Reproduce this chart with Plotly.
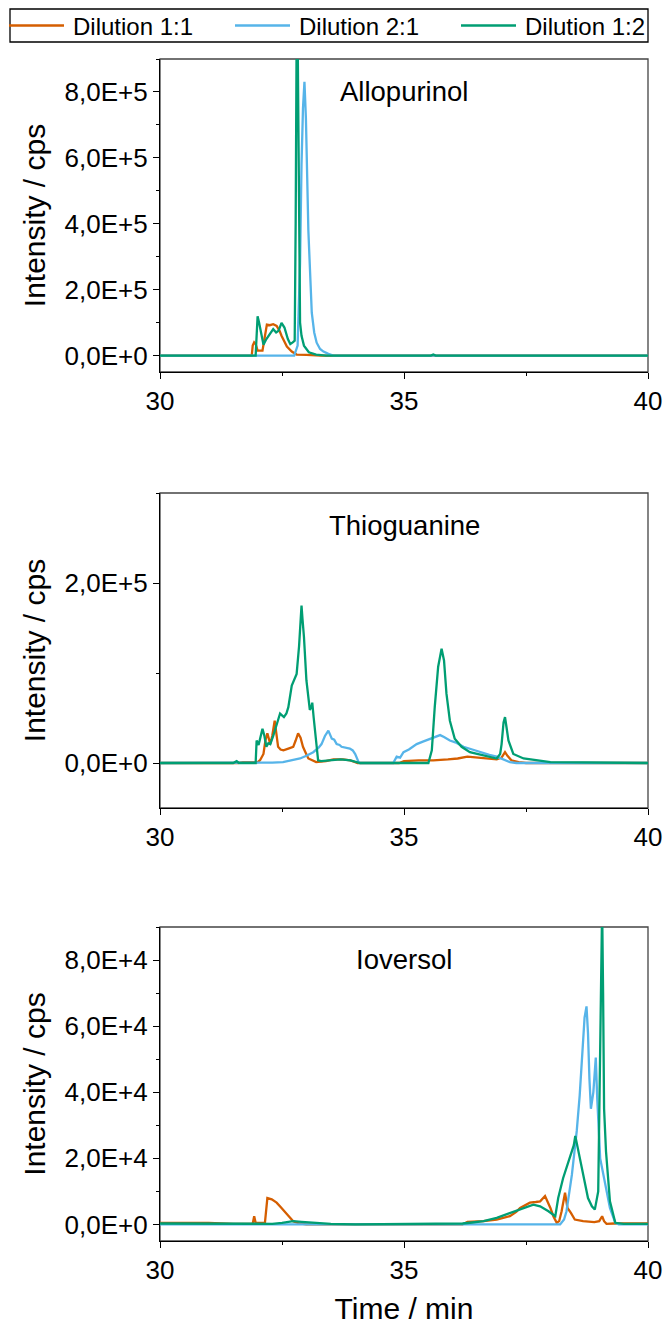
import plotly.graph_objects as go

# ---------------- data ----------------
series_names = ["Dilution 1:1", "Dilution 2:1", "Dilution 1:2"]
series_colors = ["#D55E00", "#56B4E9", "#009E73"]
panel_labels = ["Allopurinol", "Thioguanine", "Ioversol"]

# Allopurinol (time / min, intensity / cps)
allo_11 = [(30, 0), (31.88, 0), (31.9, 3.0e4), (31.93, 4.0e4), (31.96, 3.5e4), (32.0, 1.5e4),
           (32.1, 1.5e4), (32.15, 6.0e4), (32.19, 9.4e4), (32.25, 9.2e4), (32.32, 9.5e4),
           (32.39, 9.0e4), (32.45, 7.5e4), (32.49, 6.0e4), (32.55, 4.0e4), (32.6, 2.7e4),
           (32.7, 1.2e4), (32.8, 3.0e3), (33.0, 2.0e3), (33.3, 0), (40, 0)]
allo_21 = [(30, 0), (32.75, 0), (32.82, 3.0e4), (32.87, 2.8e5), (32.9, 5.8e5), (32.93, 7.5e5),
           (32.96, 8.31e5), (32.99, 7.2e5), (33.04, 3.8e5), (33.08, 2.2e5), (33.11, 1.3e5),
           (33.16, 7.0e4), (33.21, 3.9e4), (33.28, 2.0e4), (33.35, 1.2e4), (33.45, 5.0e3),
           (33.55, 0), (40, 0)]
allo_12 = [(30, 0), (31.96, 0), (31.98, 6.0e4), (32.0, 1.19e5), (32.03, 1.0e5), (32.06, 7.9e4),
           (32.12, 3.3e4), (32.18, 5.0e4), (32.25, 6.5e4), (32.32, 8.0e4), (32.38, 7.0e4),
           (32.43, 7.5e4), (32.49, 9.9e4), (32.55, 8.5e4), (32.62, 5.0e4), (32.67, 3.5e4),
           (32.72, 4.0e4), (32.76, 4.5e4), (32.78, 4.0e5), (32.8, 9.8e5), (32.82, 9.8e5),
           (32.85, 3.0e5), (32.87, 1.0e5), (32.9, 6.0e4), (32.95, 3.0e4), (33.05, 1.0e4),
           (33.2, 3.0e3), (33.4, 0), (35.55, 0), (35.6, 3.0e3), (35.65, 0), (40, 0)]

# Thioguanine
thio_11 = [(30, 0), (31.6, 0), (31.7, 1.0e3), (32.0, 1.0e3), (32.05, 3.0e3), (32.12, 1.0e4),
           (32.16, 2.5e4), (32.2, 3.3e4), (32.26, 2.1e4), (32.3, 3.0e4), (32.35, 4.7e4),
           (32.38, 3.5e4), (32.42, 1.8e4), (32.47, 1.5e4), (32.53, 1.4e4), (32.63, 1.6e4),
           (32.73, 1.8e4), (32.78, 2.5e4), (32.83, 3.3e4), (32.88, 2.8e4), (32.93, 1.8e4),
           (32.98, 1.2e4), (33.04, 5.0e3), (33.2, 1.0e3), (33.4, 2.0e3), (33.55, 4.0e3),
           (33.75, 4.0e3), (33.9, 3.0e3), (34.05, 0), (34.9, 0), (35.0, 2.0e3), (35.3, 3.0e3),
           (35.6, 3.0e3), (35.9, 4.0e3), (36.1, 5.0e3), (36.3, 7.0e3), (36.5, 6.0e3),
           (36.7, 5.0e3), (36.9, 4.0e3), (37.0, 6.0e3), (37.07, 1.2e4), (37.12, 8.0e3),
           (37.2, 3.0e3), (37.35, 1.0e3), (37.5, 0), (40, 0)]
thio_21 = [(30, 0), (32.0, 0), (32.3, 500), (32.52, 1.0e3), (32.7, 3.0e3), (32.87, 5.0e3),
           (33.0, 8.0e3), (33.14, 1.2e4), (33.25, 1.7e4), (33.31, 2.1e4), (33.38, 3.0e4),
           (33.45, 3.6e4), (33.52, 2.7e4), (33.57, 2.6e4), (33.62, 2.1e4), (33.68, 2.0e4),
           (33.72, 1.8e4), (33.8, 1.7e4), (33.89, 1.6e4), (33.95, 1.4e4), (34.0, 1.0e4),
           (34.07, 1.0e3), (34.1, 0), (34.78, 0), (34.85, 7.0e3), (34.92, 6.0e3), (34.99, 1.2e4),
           (35.1, 1.5e4), (35.26, 2.1e4), (35.4, 2.4e4), (35.53, 2.7e4), (35.65, 2.9e4),
           (35.74, 3.1e4), (35.82, 2.9e4), (35.94, 2.5e4), (36.05, 2.3e4), (36.22, 1.8e4),
           (36.4, 1.5e4), (36.56, 1.2e4), (36.75, 9.0e3), (36.9, 7.0e3), (37.05, 4.0e3),
           (37.17, 1.0e3), (37.3, 0), (40, 0)]
thio_12 = [(30, 0), (31.5, 0), (31.57, 2.0e3), (31.62, 0), (31.96, 0), (31.98, 2.5e4),
           (32.02, 2.0e4), (32.07, 3.0e4), (32.1, 3.8e4), (32.14, 3.0e4), (32.18, 1.8e4),
           (32.22, 2.2e4), (32.26, 2.1e4), (32.32, 3.0e4), (32.37, 4.0e4), (32.42, 5.0e4),
           (32.46, 5.5e4), (32.5, 5.3e4), (32.54, 5.1e4), (32.59, 5.5e4), (32.63, 6.2e4),
           (32.7, 8.6e4), (32.76, 9.5e4), (32.8, 9.9e4), (32.85, 1.3e5), (32.88, 1.55e5),
           (32.9, 1.75e5), (32.92, 1.6e5), (32.95, 1.4e5), (33.0, 9.2e4), (33.04, 7.0e4),
           (33.07, 5.9e4), (33.1, 6.2e4), (33.12, 6.7e4), (33.15, 5.0e4), (33.18, 3.3e4),
           (33.24, 3.0e3), (33.3, 2.0e3), (33.5, 3.0e3), (33.7, 4.0e3), (33.9, 3.0e3),
           (34.1, 0), (35.5, 0), (35.57, 1.4e4), (35.63, 6.2e4), (35.7, 1.07e5), (35.77, 1.27e5),
           (35.82, 1.14e5), (35.87, 7.7e4), (35.94, 4.7e4), (36.04, 2.7e4), (36.18, 1.8e4),
           (36.35, 1.2e4), (36.63, 8.5e3), (36.9, 5.0e3), (36.97, 1.0e4), (37.0, 2.1e4),
           (37.04, 4.5e4), (37.07, 5.1e4), (37.1, 4.0e4), (37.14, 2.5e4), (37.24, 1.0e4),
           (37.45, 5.0e3), (38.0, 1.0e3), (40, 0)]

# Ioversol
iover_11 = [(30, 500), (31.0, 500), (31.5, 200), (31.9, 200), (31.93, 2.5e3), (31.96, 500),
            (32.15, 500), (32.18, 6.0e3), (32.2, 8.0e3), (32.29, 7.6e3), (32.39, 6.6e3),
            (32.49, 5.0e3), (32.56, 3.8e3), (32.63, 2.5e3), (32.73, 1.0e3), (32.85, 300),
            (33.0, 0), (36.2, 0), (36.3, 800), (36.63, 1.0e3), (36.9, 1.5e3), (37.17, 2.5e3),
            (37.3, 3.8e3), (37.38, 5.0e3), (37.58, 6.6e3), (37.7, 6.8e3), (37.79, 7.0e3),
            (37.89, 8.6e3), (37.96, 6.6e3), (38.0, 5.0e3), (38.06, 2.5e3), (38.13, 500),
            (38.18, 1.0e3), (38.23, 4.0e3), (38.3, 9.6e3), (38.35, 5.0e3), (38.42, 3.5e3),
            (38.5, 1.5e3), (38.67, 1.0e3), (38.9, 700), (39.0, 1.0e3), (39.06, 2.5e3),
            (39.1, 1.0e3), (39.15, 200), (39.3, 300), (40, 300)]
iover_21 = [(30, 0), (38.2, 0), (38.28, 1.5e3), (38.33, 4.0e3), (38.44, 1.5e4), (38.54, 2.83e4),
            (38.6, 3.9e4), (38.64, 4.85e4), (38.7, 6.26e4), (38.74, 6.6e4), (38.77, 5.8e4),
            (38.8, 4.4e4), (38.83, 3.5e4), (38.86, 3.8e4), (38.88, 4.0e4), (38.93, 5.05e4),
            (38.96, 3.8e4), (39.02, 2.0e4), (39.12, 1.2e4), (39.22, 5.0e3), (39.33, 500),
            (39.4, 0), (40, 0)]
iover_12 = [(30, 300), (32.0, 300), (32.3, 200), (32.5, 500), (32.73, 1.0e3), (32.9, 800),
            (33.2, 500), (33.5, 200), (34.0, 0), (36.2, 300), (36.4, 600), (36.63, 1.0e3),
            (36.9, 2.0e3), (37.17, 3.5e3), (37.45, 5.0e3), (37.65, 6.0e3), (37.79, 5.5e3),
            (37.96, 4.0e3), (38.1, 2.5e3), (38.16, 8.0e3), (38.26, 1.4e4), (38.35, 1.8e4),
            (38.42, 2.1e4), (38.48, 2.4e4), (38.51, 2.68e4), (38.55, 2.4e4), (38.6, 2.1e4),
            (38.67, 1.5e4), (38.77, 8.0e3), (38.85, 5.5e3), (38.91, 4.5e3), (38.98, 1.0e4),
            (39.01, 4.0e4), (39.03, 6.5e4), (39.06, 9.6e4), (39.08, 7.0e4), (39.1, 3.5e4),
            (39.14, 2.2e4), (39.22, 7.0e3), (39.33, 500), (39.5, 200), (40, 200)]

panels = [
    [allo_11, allo_21, allo_12],
    [thio_11, thio_21, thio_12],
    [iover_11, iover_21, iover_12],
]

x_range = [30, 40]
x_tickvals = [30, 35, 40]
x_ticktext = ["30", "35", "40"]

y_ranges = [[-0.5e5, 9.0e5], [-0.5e5, 3.0e5], [-0.5e4, 9.0e4]]
y_minor_dtick = [1e5, 1e5, 1e4]
y_tickvals = [
    [0, 2e5, 4e5, 6e5, 8e5],
    [0, 2e5],
    [0, 2e4, 4e4, 6e4, 8e4],
]
y_ticktext = [
    ["0,0E+0", "2,0E+5", "4,0E+5", "6,0E+5", "8,0E+5"],
    ["0,0E+0", "2,0E+5"],
    ["0,0E+0", "2,0E+4", "4,0E+4", "6,0E+4", "8,0E+4"],
]

x_title = "Time / min"
y_title = "Intensity / cps"

# ---------------- figure ----------------
W, H = 665, 1325
FONT = "Liberation Sans, Arial, sans-serif"
x_dom = [160 / W, 648 / W]
y_doms = [[1 - 372 / H, 1 - 59 / H], [1 - 808 / H, 1 - 493 / H], [1 - 1241 / H, 1 - 927 / H]]

fig = go.Figure()
for p, series in enumerate(panels):
    xa = "x" if p == 0 else f"x{p + 1}"
    ya = "y" if p == 0 else f"y{p + 1}"
    for s, pts in enumerate(series):
        fig.add_trace(go.Scatter(
            x=[t for t, _ in pts], y=[v for _, v in pts],
            mode="lines", name=series_names[s],
            line=dict(color=series_colors[s], width=2.3),
            xaxis=xa, yaxis=ya, showlegend=False, legendgroup=series_names[s],
        ))

layout = dict(
    template="none",
    width=W, height=H,
    margin=dict(l=0, r=0, t=0, b=0, autoexpand=False),
    paper_bgcolor="white", plot_bgcolor="white",
    font=dict(family=FONT, color="black", size=26),
    showlegend=False,
    shapes=[], annotations=[],
)

for p in range(3):
    sx = "" if p == 0 else str(p + 1)
    layout["xaxis" + sx] = dict(
        domain=x_dom, anchor="y" + sx, range=x_range, automargin=False,
        tickmode="array", tickvals=x_tickvals, ticktext=x_ticktext,
        ticks="outside", ticklen=6, tickwidth=1.3, tickcolor="black",
        minor=dict(ticks="outside", ticklen=3, tickwidth=1.3, tickcolor="black",
                   tickmode="linear", tick0=30, dtick=2.5, showgrid=False),
        showline=True, linecolor="black", linewidth=1.3,
        showgrid=False, zeroline=False, tickfont=dict(size=26),
        title=dict(text=x_title if p == 2 else "", font=dict(size=30), standoff=20),
    )
    layout["yaxis" + sx] = dict(
        domain=y_doms[p], anchor="x" + sx, range=y_ranges[p], automargin=False,
        tickmode="array", tickvals=y_tickvals[p], ticktext=y_ticktext[p],
        ticks="outside", ticklen=6, tickwidth=1.3, tickcolor="black",
        minor=dict(ticks="outside", ticklen=3, tickwidth=1.3, tickcolor="black",
                   tickmode="linear", tick0=0, dtick=y_minor_dtick[p], showgrid=False),
        showline=True, linecolor="black", linewidth=1.3,
        showgrid=False, zeroline=False, tickfont=dict(size=26),
        title=dict(text=y_title, font=dict(size=30), standoff=10),
    )
    layout["shapes"].append(dict(
        type="rect", xref=f"x{sx} domain", yref=f"y{sx} domain",
        x0=0, x1=1, y0=0, y1=1, line=dict(color="#444444", width=1.3), layer="below",
    ))
    layout["annotations"].append(dict(
        text=panel_labels[p], xref=f"x{sx} domain", yref=f"y{sx} domain",
        x=0.5, y=1 - 32 / 313, xanchor="center", yanchor="middle",
        showarrow=False, font=dict(size=27.5, family=FONT),
    ))

# legend box drawn across the top (box, colour swatch lines and series names)
leg_top, leg_bot = 9, 42
leg_left, leg_right = 10, 648
leg_item_x = [9, 235, 461]
leg_line_len = 55
leg_mid = (leg_top + leg_bot) / 2
layout["shapes"].append(dict(
    type="rect", xref="paper", yref="paper",
    x0=leg_left / W, x1=leg_right / W, y0=1 - leg_bot / H, y1=1 - leg_top / H,
    line=dict(color="black", width=1.3), fillcolor="white", layer="above",
))
for s, name in enumerate(series_names):
    x0 = leg_item_x[s]
    layout["shapes"].append(dict(
        type="line", xref="paper", yref="paper",
        x0=x0 / W, x1=(x0 + leg_line_len) / W, y0=1 - leg_mid / H, y1=1 - leg_mid / H,
        line=dict(color=series_colors[s], width=2.5), layer="above",
    ))
    layout["annotations"].append(dict(
        text=name, xref="paper", yref="paper",
        x=(x0 + leg_line_len + 7) / W, y=1 - (leg_mid + 1) / H,
        xanchor="left", yanchor="middle", showarrow=False,
        font=dict(size=24, family=FONT),
    ))

fig.update_layout(**layout)
fig.write_html("out.html")
